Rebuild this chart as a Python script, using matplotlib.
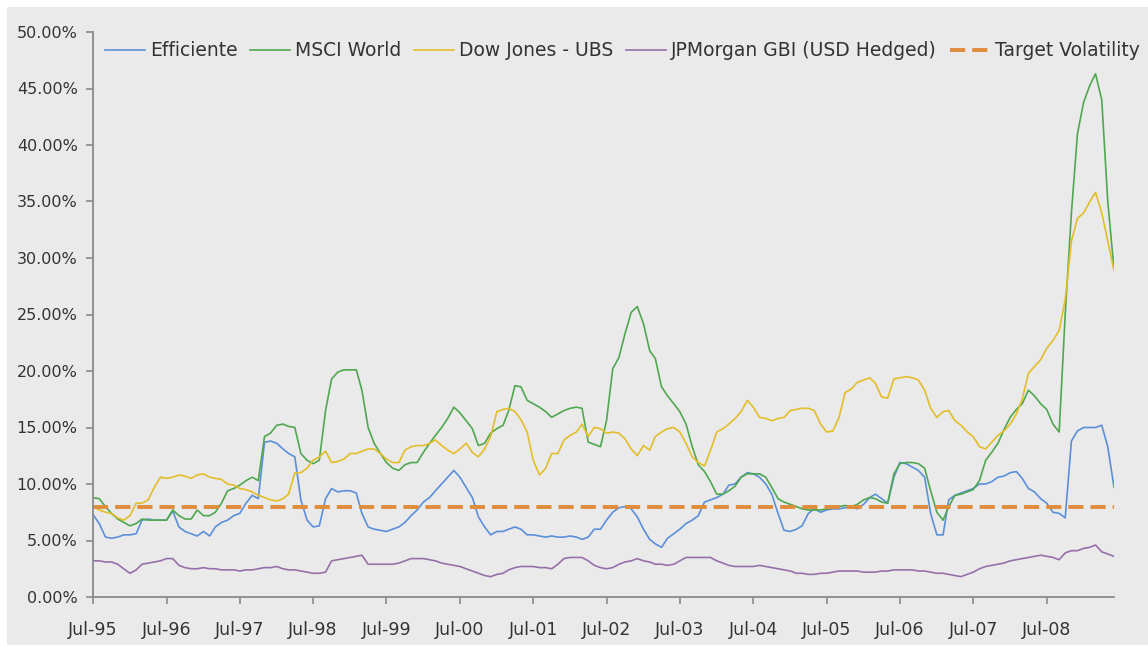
import matplotlib
matplotlib.use("Agg")
import matplotlib.pyplot as plt
import matplotlib.dates as mdates
from matplotlib.ticker import FuncFormatter
from matplotlib.patches import Rectangle
import pandas as pd

# monthly readings, Jul-95 .. Jun-09 (annualised volatility, %)
dates = pd.date_range("1995-07-01", periods=168, freq="MS")

efficiente = [
    7.3, 6.5, 5.3, 5.2, 5.3, 5.5, 5.5, 5.6, 6.8, 6.9,
    6.8, 6.8, 6.8, 7.6, 6.2, 5.8, 5.6, 5.4, 5.8, 5.4,
    6.2, 6.6, 6.8, 7.2, 7.4, 8.3, 9.0, 8.7, 13.7, 13.8,
    13.6, 13.1, 12.7, 12.4, 8.6, 6.8, 6.2, 6.3, 8.7, 9.6,
    9.3, 9.4, 9.4, 9.2, 7.4, 6.2, 6.0, 5.9, 5.8, 6.0,
    6.2, 6.6, 7.2, 7.7, 8.4, 8.8, 9.4, 10.0, 10.6, 11.2,
    10.6, 9.7, 8.8, 7.1, 6.2, 5.5, 5.8, 5.8, 6.0, 6.2,
    6.0, 5.5, 5.5, 5.4, 5.3, 5.4, 5.3, 5.3, 5.4, 5.3,
    5.1, 5.3, 6.0, 6.0, 6.8, 7.5, 7.9, 8.0, 7.8, 7.1,
    6.0, 5.1, 4.7, 4.4, 5.2, 5.6, 6.0, 6.5, 6.8, 7.2,
    8.4, 8.6, 8.8, 9.1, 9.9, 10.0, 10.6, 11.0, 10.9, 10.6,
    10.0, 9.1, 7.4, 5.9, 5.8, 6.0, 6.3, 7.4, 7.8, 7.5,
    7.7, 7.8, 7.8, 7.9, 8.0, 7.8, 8.2, 8.8, 9.1, 8.7,
    8.3, 10.6, 11.9, 11.8, 11.5, 11.2, 10.6, 7.4, 5.5, 5.5,
    8.6, 9.0, 9.2, 9.4, 9.6, 10.0, 10.0, 10.2, 10.6, 10.7,
    11.0, 11.1, 10.5, 9.6, 9.3, 8.7, 8.3, 7.5, 7.4, 7.0,
    13.8, 14.7, 15.0, 15.0, 15.0, 15.2, 13.3, 9.7,
]

msci_world = [
    8.8, 8.7, 8.0, 7.4, 6.9, 6.6, 6.3, 6.5, 6.9, 6.8,
    6.8, 6.8, 6.8, 7.7, 7.2, 6.9, 6.9, 7.7, 7.2, 7.2,
    7.5, 8.3, 9.4, 9.6, 9.9, 10.3, 10.6, 10.3, 14.2, 14.5,
    15.2, 15.3, 15.1, 15.0, 12.7, 12.1, 11.8, 12.1, 16.5, 19.3,
    19.9, 20.1, 20.1, 20.1, 18.3, 15.0, 13.6, 12.7, 11.9, 11.4,
    11.2, 11.7, 11.9, 11.9, 12.8, 13.6, 14.3, 15.0, 15.8, 16.8,
    16.3, 15.6, 14.9, 13.4, 13.6, 14.5, 14.9, 15.2, 16.5, 18.7,
    18.6, 17.4, 17.1, 16.8, 16.4, 15.9, 16.2, 16.5, 16.7, 16.8,
    16.7, 13.7, 13.5, 13.3, 15.6, 20.2, 21.2, 23.3, 25.2, 25.7,
    24.2, 21.8, 21.1, 18.6, 17.8, 17.1, 16.4, 15.3, 13.3, 11.7,
    11.1, 10.2, 9.1, 9.1, 9.4, 9.8, 10.6, 10.9, 10.9, 10.9,
    10.6, 9.7, 8.7, 8.4, 8.2, 8.0, 7.8, 7.7, 7.7, 7.7,
    7.8, 7.9, 8.0, 8.1, 8.0, 8.2, 8.6, 8.8, 8.7, 8.4,
    8.3, 10.9, 11.8, 11.9, 11.9, 11.8, 11.4, 9.4, 7.5, 6.8,
    8.0, 9.0, 9.1, 9.3, 9.5, 10.3, 12.1, 12.8, 13.6, 14.8,
    15.9, 16.6, 17.1, 18.3, 17.8, 17.1, 16.6, 15.3, 14.6, 25.0,
    34.0, 41.0, 43.8, 45.3, 46.3, 44.0, 35.0, 29.0,
]

dow_jones_ubs = [
    8.0, 7.7, 7.5, 7.4, 7.0, 6.8, 7.2, 8.3, 8.3, 8.6,
    9.7, 10.6, 10.5, 10.6, 10.8, 10.7, 10.5, 10.8, 10.9, 10.6,
    10.5, 10.4, 10.0, 9.9, 9.6, 9.5, 9.3, 9.0, 8.8, 8.6,
    8.5, 8.7, 9.1, 11.0, 11.0, 11.4, 12.1, 12.4, 12.9, 11.9,
    12.0, 12.2, 12.7, 12.7, 12.9, 13.1, 13.1, 12.7, 12.2, 11.9,
    11.9, 13.0, 13.3, 13.4, 13.4, 13.6, 13.9, 13.4, 13.0, 12.7,
    13.1, 13.6, 12.8, 12.4, 13.1, 14.2, 16.4, 16.6, 16.7, 16.4,
    15.7, 14.6, 12.1, 10.8, 11.4, 12.7, 12.7, 13.9, 14.3, 14.6,
    15.3, 14.2, 15.0, 14.9, 14.5, 14.6, 14.5, 14.0, 13.1, 12.5,
    13.4, 13.0, 14.2, 14.6, 14.9, 15.0, 14.6, 13.6, 12.4, 11.9,
    11.6, 13.0, 14.6, 14.9, 15.3, 15.8, 16.4, 17.4, 16.8, 15.9,
    15.8, 15.6, 15.8, 15.9, 16.5, 16.6, 16.7, 16.7, 16.5, 15.3,
    14.6, 14.7, 15.9, 18.1, 18.4, 19.0, 19.2, 19.4, 18.9, 17.7,
    17.6, 19.3, 19.4, 19.5, 19.4, 19.2, 18.3, 16.7, 15.9, 16.4,
    16.5, 15.6, 15.2, 14.6, 14.2, 13.3, 13.1, 13.7, 14.3, 14.7,
    15.3, 16.2, 17.5, 19.8, 20.4, 21.0, 22.0, 22.7, 23.6, 26.3,
    31.5, 33.5, 34.0, 35.0, 35.8, 34.0, 31.5, 28.9,
]

jpm_gbi = [
    3.2, 3.2, 3.1, 3.1, 2.9, 2.5, 2.1, 2.4, 2.9, 3.0,
    3.1, 3.2, 3.4, 3.4, 2.8, 2.6, 2.5, 2.5, 2.6, 2.5,
    2.5, 2.4, 2.4, 2.4, 2.3, 2.4, 2.4, 2.5, 2.6, 2.6,
    2.7, 2.5, 2.4, 2.4, 2.3, 2.2, 2.1, 2.1, 2.2, 3.2,
    3.3, 3.4, 3.5, 3.6, 3.7, 2.9, 2.9, 2.9, 2.9, 2.9,
    3.0, 3.2, 3.4, 3.4, 3.4, 3.3, 3.2, 3.0, 2.9, 2.8,
    2.7, 2.5, 2.3, 2.1, 1.9, 1.8, 2.0, 2.1, 2.4, 2.6,
    2.7, 2.7, 2.7, 2.6, 2.6, 2.5, 2.9, 3.4, 3.5, 3.5,
    3.5, 3.2, 2.8, 2.6, 2.5, 2.6, 2.9, 3.1, 3.2, 3.4,
    3.2, 3.1, 2.9, 2.9, 2.8, 2.9, 3.2, 3.5, 3.5, 3.5,
    3.5, 3.5, 3.2, 3.0, 2.8, 2.7, 2.7, 2.7, 2.7, 2.8,
    2.7, 2.6, 2.5, 2.4, 2.3, 2.1, 2.1, 2.0, 2.0, 2.1,
    2.1, 2.2, 2.3, 2.3, 2.3, 2.3, 2.2, 2.2, 2.2, 2.3,
    2.3, 2.4, 2.4, 2.4, 2.4, 2.3, 2.3, 2.2, 2.1, 2.1,
    2.0, 1.9, 1.8, 2.0, 2.2, 2.5, 2.7, 2.8, 2.9, 3.0,
    3.2, 3.3, 3.4, 3.5, 3.6, 3.7, 3.6, 3.5, 3.3, 3.9,
    4.1, 4.1, 4.3, 4.4, 4.6, 4.0, 3.8, 3.6,
]

target_vol = 8.0

fig = plt.figure(figsize=(11.48, 6.47), dpi=100, facecolor="white")
fig.patches.append(Rectangle((7 / 1148, 2 / 647), 1 - 7 / 1148, 638 / 647,
                             transform=fig.transFigure, facecolor="#eaeaea",
                             edgecolor="none", zorder=-10))

ax = fig.add_axes([93 / 1148, 1 - 597 / 647, (1114 - 93) / 1148, (597 - 32) / 647])
ax.set_facecolor("none")

ax.plot(dates, [v / 100 for v in efficiente], color="#5b8fd9", lw=1.2, label="Efficiente")
ax.plot(dates, [v / 100 for v in msci_world], color="#4fa84f", lw=1.2, label="MSCI World")
ax.plot(dates, [v / 100 for v in dow_jones_ubs], color="#e3bd2a", lw=1.2, label="Dow Jones - UBS")
ax.plot(dates, [v / 100 for v in jpm_gbi], color="#9670aa", lw=1.2, label="JPMorgan GBI (USD Hedged)")
ax.axhline(target_vol / 100, color="#e08c3a", lw=2.8, dashes=(3.9, 1.8), label="Target Volatility")

ax.set_ylim(0, 0.5)
ax.set_xlim(dates[0], dates[-1])
ax.set_yticks([i * 0.05 for i in range(11)])
ax.yaxis.set_major_formatter(FuncFormatter(lambda v, p: f"{v * 100:.2f}%"))

ax.xaxis.set_major_locator(mdates.MonthLocator(bymonth=7))
ax.xaxis.set_major_formatter(mdates.DateFormatter("%b-%y"))

for s in ["top", "right"]:
    ax.spines[s].set_visible(False)
for s in ["left", "bottom"]:
    ax.spines[s].set_color("#8a8a8a")
    ax.spines[s].set_linewidth(1.3)

ax.tick_params(axis="y", colors="#8a8a8a", labelcolor="#333333", labelsize=11.5,
               length=5, width=1.2, pad=6)
ax.tick_params(axis="x", colors="#8a8a8a", labelcolor="#333333", labelsize=12.5,
               length=5, width=1.2, pad=12)

fig.legend(loc="center left", bbox_to_anchor=(105 / 1148, 1 - 51 / 647),
           ncol=5, frameon=False, fontsize=13.5, handlelength=2.13,
           handletextpad=0.27, columnspacing=0.68, borderpad=0, borderaxespad=0,
           labelcolor="#333333")

fig.savefig("out.png", dpi=100)
